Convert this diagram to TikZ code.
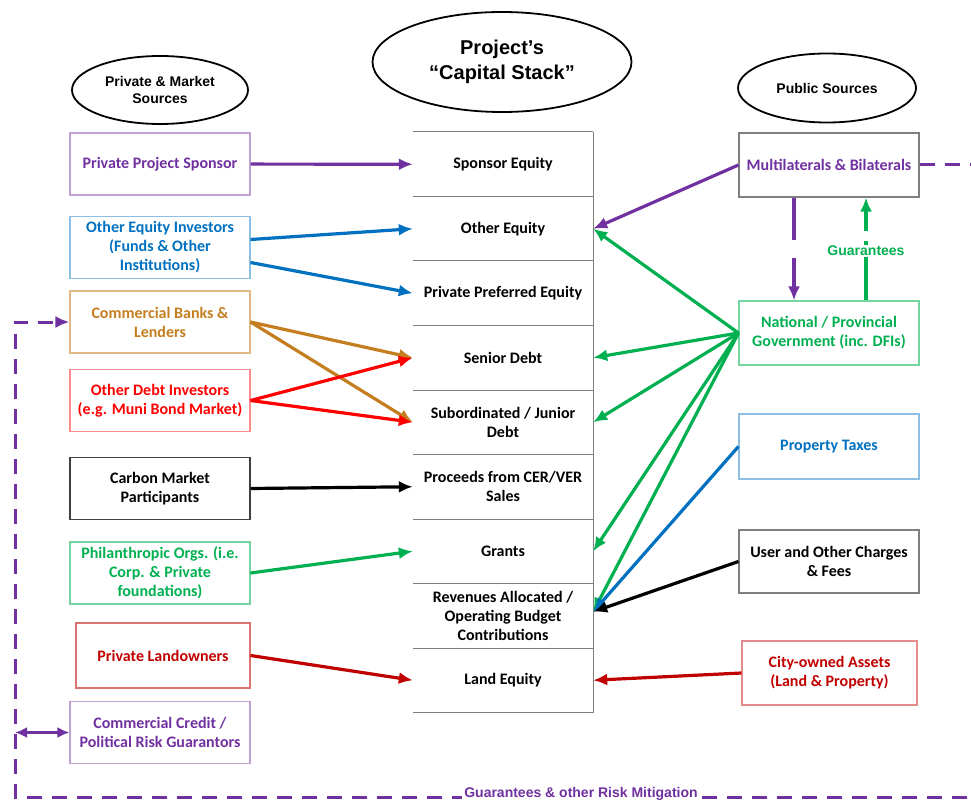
\documentclass[tikz,border=0pt]{standalone}
\usepackage{fontspec}
\setmainfont{Carlito}
\newfontfamily\arialfont{Liberation Sans}
\usetikzlibrary{shapes.geometric,arrows.meta}
\definecolor{cpurple}{HTML}{7030A0}
\definecolor{cblue}{HTML}{0070C0}
\definecolor{corange}{HTML}{C47E1F}
\definecolor{cred}{HTML}{FF0000}
\definecolor{cgreen}{HTML}{00B050}
\definecolor{cdarkred}{HTML}{C00000}
\definecolor{cgray}{HTML}{7F7F7F}

\begin{document}
\begin{tikzpicture}[x=1pt,y=-1pt,
    box/.style={draw,line width=1.1pt,minimum width=180pt,minimum height=62pt,align=center,
        inner sep=2pt,font=\bfseries\fontsize{16}{19}\selectfont},
    oval/.style={ellipse,draw,line width=1.8pt,align=center,font=\arialfont\bfseries},
    row/.style={minimum width=180pt,minimum height=64pt,align=center,inner sep=2pt,
        font=\bfseries\fontsize{16}{19}\selectfont},
    link/.style={line width=3.2pt,-{Latex[length=14pt,width=12pt]}},
    dashlink/.style={line width=3pt,dash pattern=on 15pt off 10pt}]
    \useasboundingbox (0,0) rectangle (971,802);

    \node[oval,minimum width=176pt,minimum height=68pt,font=\arialfont\bfseries\fontsize{14}{17}\selectfont]
        (priv) at (160,90) {Private \& Market\\Sources};
    \node[oval,minimum width=259pt,minimum height=100pt,font=\arialfont\bfseries\fontsize{20}{25}\selectfont]
        (proj) at (502,62) {Project’s\\“Capital Stack”};
    \node[oval,minimum width=178pt,minimum height=69pt,font=\arialfont\bfseries\fontsize{14}{17}\selectfont]
        (pub) at (827,88) {Public Sources};

    % capital stack
    \foreach \k in {0,...,9} {
        \draw[cgray,line width=1pt] (413,132+64.5*\k) -- (593,132+64.5*\k);
    }
    \draw[cgray,line width=1pt] (593,132) -- (593,712.5);
    \node[row] (se)  at (503,164.25) {Sponsor Equity};
    \node[row] (oe)  at (503,228.75) {Other Equity};
    \node[row] (ppe) at (503,293.25) {Private Preferred Equity};
    \node[row] (sd)  at (503,357.75) {Senior Debt};
    \node[row] (sub) at (503,422.25) {Subordinated / Junior\\Debt};
    \node[row] (pc)  at (503,486.75) {Proceeds from CER/VER\\Sales};
    \node[row] (gr)  at (503,551.25) {Grants};
    \node[row] (rev) at (503,615.75) {Revenues Allocated /\\Operating Budget\\Contributions};
    \node[row] (le)  at (503,680.25) {Land Equity};

    % private and market sources
    \node[box,draw=cpurple!45,text=cpurple] (pps) at (160,164) {Private Project Sponsor};
    \node[box,draw=cblue!45,text=cblue] (oei) at (160,247.5) {Other Equity Investors\\(Funds \& Other\\Institutions)};
    \node[box,draw=corange!55,text=corange] (cb) at (160,322) {Commercial Banks \&\\Lenders};
    \node[box,draw=cred!45,text=cred] (odi) at (160,400.5) {Other Debt Investors\\(e.g. Muni Bond Market)};
    \node[box,draw=black!75,text=black] (cmp) at (160,488.5) {Carbon Market\\Participants};
    \node[box,draw=cgreen!55,text=cgreen] (phil) at (160,573) {Philanthropic Orgs. (i.e.\\Corp. \& Private\\foundations)};
    \node[box,draw=cdarkred!55,text=cdarkred,minimum width=174pt,minimum height=65pt] (pl) at (163,655.5) {Private Landowners};
    \node[box,draw=cpurple!45,text=cpurple] (ccg) at (160,732.5) {Commercial Credit /\\Political Risk Guarantors};

    % public sources
    \node[box,draw=cgray,text=cpurple,minimum height=64pt] (mul) at (829,165) {Multilaterals \& Bilaterals};
    \node[box,draw=cgreen!55,text=cgreen,minimum height=64pt] (nat) at (829,333) {National / Provincial\\Government (inc. DFIs)};
    \node[box,draw=cblue!45,text=cblue,minimum height=65pt] (ptax) at (829,446.5) {Property Taxes};
    \node[box,draw=cgray,text=black,minimum height=63pt] (ucf) at (829,561.5) {User and Other Charges\\\& Fees};
    \node[box,draw=cdarkred!45,text=cdarkred,minimum width=175pt,minimum height=64pt] (coa) at (829.5,673) {City-owned Assets\\(Land \& Property)};

    % left flows
    \draw[link,cpurple] (pps) -- (se.west);
    \draw[link,cblue] ([yshift=8pt]oei.east) -- (oe.west);
    \draw[link,cblue] ([yshift=-15pt]oei.east) -- (ppe.west);
    \draw[link,corange] (cb.east) -- (sd.west);
    \draw[link,corange] (cb.east) -- (sub.west);
    \draw[link,cred] (odi.east) -- (sd.west);
    \draw[link,cred] (odi.east) -- (sub.west);
    \draw[link,black] (cmp.east) -- (pc.west);
    \draw[link,cgreen] (phil.east) -- (gr.west);
    \draw[link,cdarkred] (pl.east) -- (le.west);

    % right flows
    \draw[link,cpurple] (mul.west) -- (oe.east);
    \foreach \t in {oe,sd,sub,gr} {
        \draw[link,cgreen] (nat.west) -- (\t.east);
    }
    \draw[link,cgreen] (nat.west) -- ([yshift=4pt]rev.east);
    \draw[link,cblue] (ptax.west) -- ([yshift=4pt]rev.east);
    \draw[link,black] (ucf.west) -- ([yshift=4pt]rev.east);
    \draw[link,cdarkred] (coa.west) -- (le.east);

    % guarantees
    \draw[link,cpurple,dash pattern=on 42pt off 18pt] ([xshift=-35pt]mul.south) -- ([xshift=-35pt]nat.north);
    \draw[link,cgreen,dash pattern=on 43pt off 6pt on 10pt off 10pt] ([xshift=37pt]nat.north) -- ([xshift=37pt]mul.south)
        node[pos=0.48,fill=white,inner sep=1pt,font=\arialfont\bfseries\fontsize{14}{17}\selectfont] (gtee) {Guarantees};

    \coordinate (fr1) at (990,165);
    \coordinate (fr2) at (990,797);
    \coordinate (fr3) at (15,797);
    \coordinate (fr4) at (15,322);
    \coordinate (fr5) at (15,732.5);
    \draw[dashlink,cpurple,-{Latex[length=14pt,width=12pt]}] (mul.east) -- (fr1) -- (fr2) -- (fr3) -- (fr4) -- (cb.west);
    \node[fill=white,inner sep=2pt,anchor=base,text=cpurple,font=\arialfont\bfseries\fontsize{14}{17}\selectfont]
        (grm) at (581,797) {Guarantees \& other Risk Mitigation};
    \draw[line width=3pt,cpurple,{Latex[length=12pt,width=11pt]}-{Latex[length=12pt,width=11pt]}] (fr5) -- (ccg.west);
\end{tikzpicture}
\end{document}
